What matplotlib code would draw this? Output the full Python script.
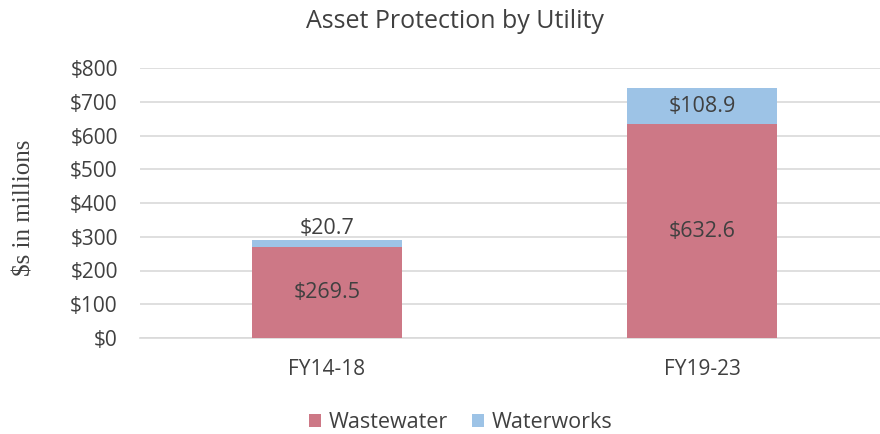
import matplotlib
matplotlib.use("Agg")

import matplotlib.pyplot as plt
import numpy as np

periodes = ["FY14-18", "FY19-23"]
wastewater = [269.5, 632.6]
waterworks = [20.7, 108.9]

c_waste = "#CD7886"
c_works = "#9DC3E6"
c_text = "#404040"

plt.rcParams["font.family"] = ["Open Sans", "DejaVu Sans"]

fig = plt.figure(figsize=(8.8, 4.34), dpi=100)
ax = fig.add_axes([140 / 880, 1 - 338 / 434, 740 / 880, 270 / 434])

x = np.arange(len(periodes))
ax.bar(x, wastewater, width=0.4, color=c_waste, label="Wastewater", zorder=3)
ax.bar(x, waterworks, width=0.4, bottom=wastewater, color=c_works,
       label="Waterworks", zorder=3)

ax.set_xlim(-0.4987, 1.4746)
ax.set_ylim(0, 800)
ax.set_yticks(np.arange(0, 801, 100))
ax.set_yticklabels(["${}".format(v) for v in range(0, 801, 100)])
ax.set_xticks(x)
ax.set_xticklabels(periodes)

ax.grid(axis="y", color="#D9D9D9", linewidth=1.2, zorder=0)
for s in ["top", "right", "left"]:
    ax.spines[s].set_visible(False)
ax.spines["bottom"].set_color("#D9D9D9")
ax.spines["bottom"].set_linewidth(1.2)
ax.tick_params(axis="both", length=0, labelsize=15, colors=c_text)
ax.tick_params(axis="y", pad=16)
ax.tick_params(axis="x", pad=15)

# titre et axe y placés sur la figure
fig.text(455 / 880, 1 - 22 / 434, "Asset Protection by Utility", fontsize=18,
         color=c_text, ha="center", va="center")
fig.text(24 / 880, 1 - 208 / 434, "$s in millions", fontsize=18, rotation=90,
         color=c_text, ha="center", va="center", family="Liberation Serif")

# etiquettes des valeurs
for i in range(len(periodes)):
    ax.text(x[i], wastewater[i] / 2, "${:.1f}".format(wastewater[i]),
            ha="center", va="center", fontsize=15.5, color=c_text, zorder=4)
    top = wastewater[i] + waterworks[i]
    if waterworks[i] < 50:
        ax.text(x[i], top + 4, "${:.1f}".format(waterworks[i]),
                ha="center", va="bottom", fontsize=15.5, color=c_text, zorder=4)
    else:
        ax.text(x[i], wastewater[i] + waterworks[i] / 2, "${:.1f}".format(waterworks[i]),
                ha="center", va="center", fontsize=15.5, color=c_text, zorder=4)

leg = fig.legend(loc="center", bbox_to_anchor=(461 / 880, 1 - 423 / 434), ncol=2,
                 frameon=False, fontsize=15.5, handlelength=0.56, handleheight=0.56,
                 columnspacing=1.1, handletextpad=0.37)
for t in leg.get_texts():
    t.set_color(c_text)

fig.savefig("out.png", dpi=100)
